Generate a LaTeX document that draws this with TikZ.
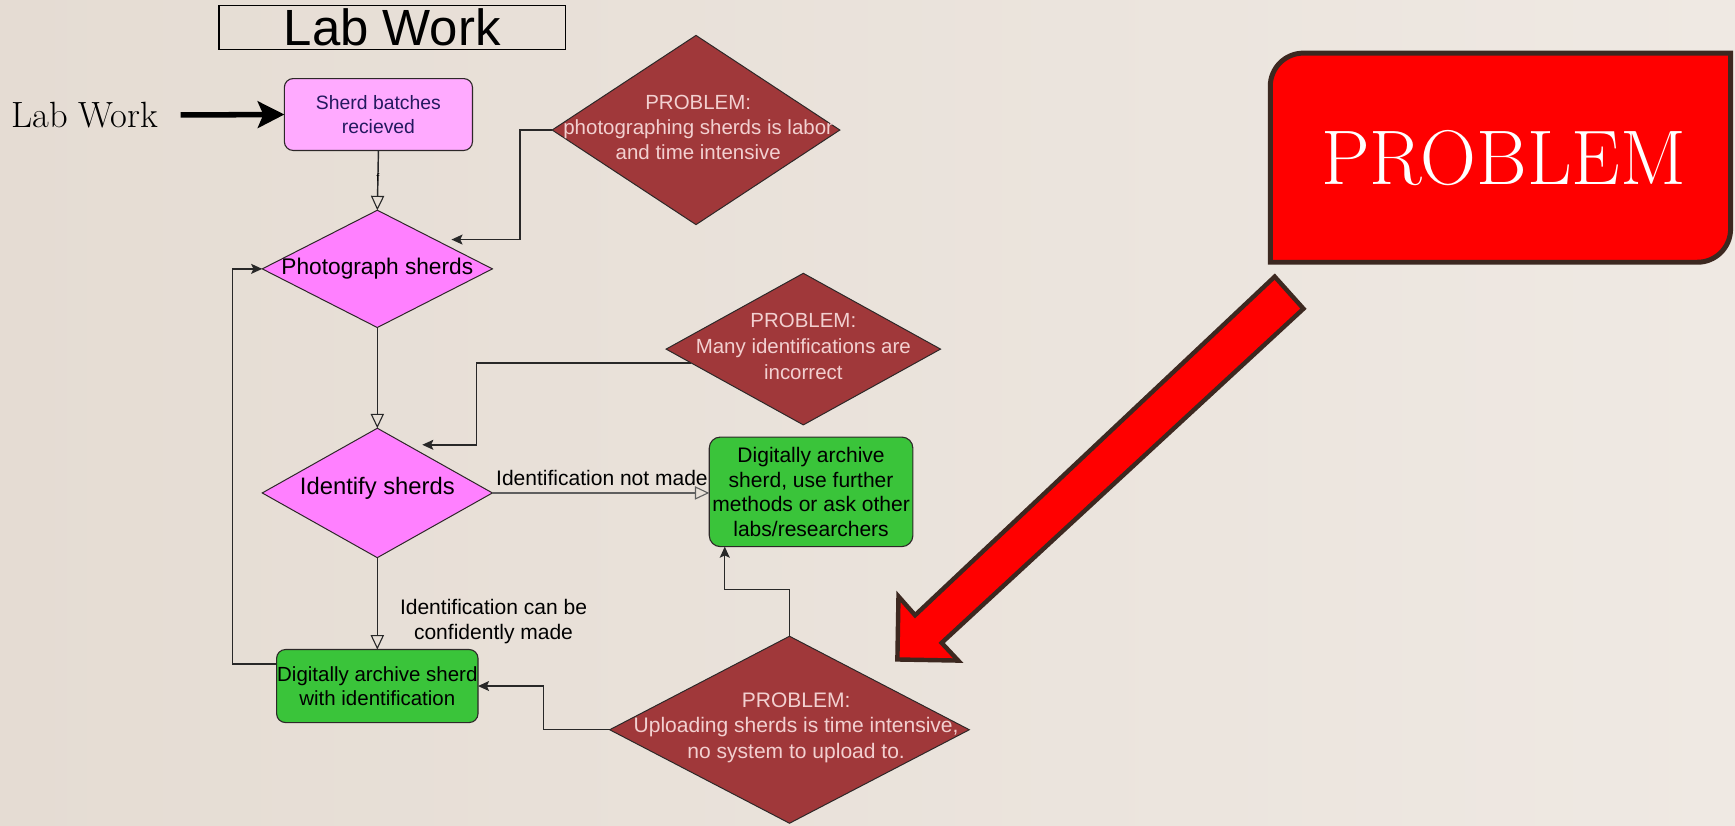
\documentclass[tikz,border=0pt]{standalone}
\usepackage{fontspec}
\newfontfamily\flowfont{Liberation Sans}
\usetikzlibrary{shapes.geometric,arrows.meta,calc}
\definecolor{paperL}{RGB}{229,220,211}
\definecolor{paperR}{RGB}{239,233,227}
\definecolor{edge}{RGB}{45,40,40}
\definecolor{linec}{RGB}{40,40,40}
\definecolor{pinklight}{RGB}{255,170,255}
\definecolor{pinkdiam}{RGB}{255,128,255}
\definecolor{greenbox}{RGB}{58,196,58}
\definecolor{probred}{RGB}{160,56,58}
\definecolor{probtext}{RGB}{242,208,208}
\definecolor{navytext}{RGB}{35,25,95}
\definecolor{darkbrown}{RGB}{60,40,32}
\begin{document}
\begin{tikzpicture}[x=1pt,y=-1pt,
  flow/.style={font=\flowfont\fontsize{19}{22.5}\selectfont, align=center},
  rbox/.style={draw=edge, line width=1pt, rounded corners=8pt, inner sep=0pt, outer sep=0pt, align=center},
  diam/.style={diamond, draw=edge, line width=0.9pt, inner sep=0pt, outer sep=0pt},
  conn/.style={draw=linec, line width=1.3pt},
  openarr/.style={conn, -{Triangle[open, length=13pt, width=12pt, line width=1pt]}},
  solidarr/.style={conn, -{Stealth[length=10pt, width=9pt, inset=2pt]}},
  bigserif/.style={font=\fontsize{33}{33}\selectfont}
]
\useasboundingbox (0,0) rectangle (1568,746);
% paper background
\shade[left color=paperL, right color=paperR] (0,0) rectangle (1568,746);

% title
\node[draw=black, line width=1.2pt, minimum width=313pt, minimum height=40pt,
      inner sep=0pt, outer sep=0pt,
      label={[font=\flowfont\fontsize{46}{46}\selectfont]center:Lab Work}] (title) at (354.5,25) {};

% entry label
\node[bigserif, anchor=west, inner sep=0pt] (lw) at (10,104) {Lab Work};

% process boxes
\node[rbox, fill=pinklight, minimum width=170pt, minimum height=65pt,
      font=\flowfont\fontsize{17.5}{22}\selectfont, text=navytext] (sb) at (342,103.5)
      {Sherd batches\\recieved};
\node[rbox, fill=greenbox, minimum width=184pt, minimum height=99pt, rounded corners=10pt,
      font=\flowfont\fontsize{19}{22.3}\selectfont] (g1) at (733,444.5)
      {Digitally archive\\sherd, use further\\methods or ask other\\labs/researchers};
\node[rbox, fill=greenbox, minimum width=182pt, minimum height=66pt,
      font=\flowfont\fontsize{18.5}{22}\selectfont] (a2) at (341,620)
      {Digitally archive sherd\\with identification};

% decision diamonds
\node[diam, fill=pinkdiam, minimum width=208pt, minimum height=106pt,
      label={[flow, font=\flowfont\fontsize{20.5}{22}\selectfont]center:Photograph sherds}] (ph) at (341,243) {};
\node[diam, fill=pinkdiam, minimum width=208pt, minimum height=117pt,
      label={[flow, font=\flowfont\fontsize{21.5}{22}\selectfont, yshift=4pt]center:Identify sherds}] (id) at (341,445.5) {};

% problem diamonds
\node[diam, fill=probred, minimum width=260pt, minimum height=171pt,
      label={[flow, text=probtext, font=\flowfont\fontsize{18.5}{22.5}\selectfont, xshift=2pt, yshift=2pt]center:{PROBLEM:\\photographing sherds is labor\\and time intensive}}] (p1) at (629,117.5) {};
\node[diam, fill=probred, minimum width=248pt, minimum height=137pt,
      label={[flow, text=probtext, font=\flowfont\fontsize{18.5}{23.5}\selectfont, yshift=2pt]center:{PROBLEM:\\Many identifications are\\incorrect}}] (p2) at (726,315.5) {};
\node[diam, fill=probred, minimum width=325pt, minimum height=169pt,
      label={[flow, text=probtext, font=\flowfont\fontsize{19}{23}\selectfont, xshift=6pt, yshift=2pt]center:{PROBLEM:\\Uploading sherds is time intensive,\\no system to upload to.}}] (p3) at (713.5,659.5) {};

% connectors
\draw[line width=5pt, draw=black, shorten <=20pt,
      -{Stealth[length=24pt, width=24pt, inset=5pt]}] (lw.east) -- (sb.west);
\draw[openarr] (sb.south) -- node[font=\flowfont\fontsize{10}{10}\selectfont, inner sep=0pt, pos=0.45] (f) {f} (ph.north);
\draw[openarr] (ph.south) -- (id.north);
\draw[openarr] (id.south) -- (a2.north);
\draw[conn, draw={rgb,255:red,95;green,95;blue,95}, line width=1.6pt,
      -{Triangle[open, length=13pt, width=12pt, line width=1pt]}] (id.east) -- (id.east -| g1.west);
\draw[solidarr, shorten >=15pt] (p1.west) -- ++(-29,0) |- ($(ph.north)!0.5!(ph.east)$);
\draw[solidarr, shorten >=14pt] (p2.187) -- ++(-194,0) |- ($(id.north)!0.256!(id.east)$);
\draw[solidarr] ($(a2.north west)!0.2!(a2.south west)$) -- ++(-40,0) |- (ph.west);
\draw[solidarr] (p3.west) -- ++(-60,0) |- (a2.east);
\draw[solidarr] (p3.north) -- ++(0,-42) -| ($(g1.south west)+(14,0)$);

% edge labels
\node[flow, inner sep=0pt] (lbl1) at (544,432) {Identification not made};
\node[flow, inner sep=0pt] (lbl2) at (446,561.5) {Identification can be\\confidently made};

% callout box
\filldraw[fill=red, draw=darkbrown, line width=4.5pt]
  (1148,237) -- (1148,78) to[out=90,in=180] (1178,48) -- (1564,48)
  -- (1564,207) to[out=-90,in=0] (1534,237) -- cycle;
\node[text=white, font=\fontsize{70}{70}\selectfont, inner sep=0pt] (pb) at (1359,143) {PROBLEM};

% pointer arrow
\filldraw[fill=red, draw=darkbrown, line width=4pt, line join=miter]
  (1152,250) -- (1178,279) -- (851,581) -- (866,597) -- (811,596) -- (812,539) -- (827,556) -- cycle;
\end{tikzpicture}
\end{document}
